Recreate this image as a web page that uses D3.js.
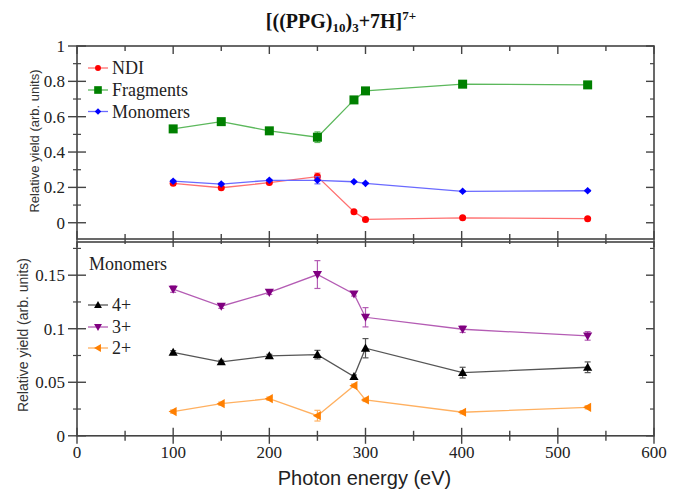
<!DOCTYPE html>
<html>
<head>
<meta charset="utf-8">
<script src="https://cdn.jsdelivr.net/npm/d3@7"></script>
<style>
  body { margin: 0; background: #fff; }
  svg { display: block; }
</style>
</head>
<body>
<div id="chart"></div>
<script>
// photon energies (eV)
const energies = [100, 150, 200, 250, 288, 300, 401, 531];

// top panel
const ndi = [0.223, 0.198, 0.227, 0.261, 0.062, 0.019, 0.028, 0.023];
const ndiErr = [0.006, 0.005, 0.006, 0.02, 0.004, 0.004, 0.004, 0.004];
const fragments = [0.531, 0.572, 0.52, 0.484, 0.695, 0.746, 0.784, 0.78];
const fragmentsErr = [0.006, 0.006, 0.006, 0.03, 0.006, 0.006, 0.006, 0.006];
const monomers = [0.235, 0.219, 0.24, 0.24, 0.232, 0.223, 0.178, 0.181];
const monomersErr = [0.005, 0.005, 0.005, 0.02, 0.004, 0.004, 0.004, 0.004];

// bottom panel (monomer charge states)
const mono4 = [0.078, 0.069, 0.0746, 0.0758, 0.0553, 0.0818, 0.059, 0.064];
const mono4Err = [0.0015, 0.0015, 0.0015, 0.004, 0.0015, 0.009, 0.005, 0.005];
const mono3 = [0.137, 0.121, 0.134, 0.1506, 0.1325, 0.1107, 0.0995, 0.0933];
const mono3Err = [0.003, 0.002, 0.002, 0.013, 0.002, 0.009, 0.003, 0.004];
const mono2 = [0.0226, 0.030, 0.0347, 0.0188, 0.0468, 0.0335, 0.022, 0.0266];
const mono2Err = [0.0015, 0.0015, 0.0015, 0.005, 0.0015, 0.0015, 0.0015, 0.0015];

const xTicks = [0, 100, 200, 300, 400, 500, 600];
const topTicks = [0, 0.2, 0.4, 0.6, 0.8, 1];
const bottomTicks = [0, 0.05, 0.1, 0.15];

const W = 680, H = 492;
const left = 77, right = 654;
const serifFont = '"Liberation Serif", "Times New Roman", serif';
const sansFont = '"Liberation Sans", Arial, sans-serif';

const svg = d3.select('#chart').append('svg')
  .attr('width', W).attr('height', H);

const x = d3.scaleLinear().domain([0, 600]).range([left, right]);
const yTop = d3.scaleLinear().domain([-0.092, 1]).range([239, 46]);
const yBot = d3.scaleLinear().domain([0, 0.181]).range([435.8, 242]);

const frameColor = '#444';

function tickText(sel) {
  return sel.style('font-family', serifFont).style('font-size', '17px').attr('fill', '#222');
}

function drawPanel(y, yt, minorStep, fmt, topTicksDown) {
  const g = svg.append('g');
  const [y0, y1] = y.range();
  g.append('rect')
    .attr('x', left).attr('y', y1)
    .attr('width', right - left).attr('height', y0 - y1)
    .attr('fill', 'none').attr('stroke', frameColor).attr('stroke-width', 1.6);

  // y ticks
  const dom = y.domain();
  const minors = d3.range(Math.ceil(dom[0] / minorStep) * minorStep, dom[1] + 1e-9, minorStep)
    .filter(v => !yt.some(t => Math.abs(t - v) < 1e-9));
  yt.forEach(t => {
    g.append('line').attr('x1', left - 9).attr('x2', left + 9)
      .attr('y1', y(t)).attr('y2', y(t)).attr('stroke', frameColor).attr('stroke-width', 1.4);
    g.append('line').attr('x1', right - 8).attr('x2', right)
      .attr('y1', y(t)).attr('y2', y(t)).attr('stroke', frameColor).attr('stroke-width', 1.4);
    tickText(g.append('text'))
      .attr('x', left - 12).attr('y', y(t)).attr('dy', '0.35em')
      .attr('text-anchor', 'end').text(fmt(t));
  });
  minors.forEach(t => {
    g.append('line').attr('x1', left - 4).attr('x2', left + 4)
      .attr('y1', y(t)).attr('y2', y(t)).attr('stroke', frameColor).attr('stroke-width', 1.2);
    g.append('line').attr('x1', right - 4).attr('x2', right)
      .attr('y1', y(t)).attr('y2', y(t)).attr('stroke', frameColor).attr('stroke-width', 1.2);
  });

  // x ticks
  d3.range(0, 601, 50).forEach(v => {
    const major = v % 100 === 0;
    const len = major ? 8 : 5;
    if (topTicksDown) {
      g.append('line').attr('x1', x(v)).attr('x2', x(v))
        .attr('y1', y1).attr('y2', y1 + len).attr('stroke', frameColor).attr('stroke-width', 1.4);
    }
    g.append('line').attr('x1', x(v)).attr('x2', x(v))
      .attr('y1', y0 - len).attr('y2', y0 + len)
      .attr('stroke', frameColor).attr('stroke-width', 1.4);
  });
  return g;
}

const fmtTop = d => d === 0 ? '0' : d === 1 ? '1' : d3.format('.1f')(d);
const fmtBot = d => d === 0 ? '0' : d === 0.1 ? '0.1' : String(d);

drawPanel(yTop, topTicks, 0.1, fmtTop, true);
drawPanel(yBot, bottomTicks, 0.025, fmtBot, false);

xTicks.forEach(v => {
  tickText(svg.append('text'))
    .attr('x', x(v)).attr('y', 452).attr('dy', '0.35em')
    .attr('text-anchor', 'middle').text(v);
});

// markers
function marker(sel, shape, color, size) {
  if (shape === 'circle') {
    sel.append('circle').attr('r', size).attr('fill', color);
  } else if (shape === 'square') {
    sel.append('rect').attr('x', -size).attr('y', -size)
      .attr('width', 2 * size).attr('height', 2 * size).attr('fill', color);
  } else if (shape === 'diamond') {
    sel.append('path').attr('d', `M0,${-size}L${size},0L0,${size}L${-size},0Z`).attr('fill', color);
  } else if (shape === 'up') {
    sel.append('path').attr('d', `M0,${-size}L${size},${size * 0.75}L${-size},${size * 0.75}Z`).attr('fill', color);
  } else if (shape === 'down') {
    sel.append('path').attr('d', `M0,${size}L${size},${-size * 0.75}L${-size},${-size * 0.75}Z`).attr('fill', color);
  } else if (shape === 'left') {
    sel.append('path').attr('d', `M${-size},0L${size * 0.75},${-size}L${size * 0.75},${size}Z`).attr('fill', color);
  }
}

function drawSeries(y, vals, errs, s) {
  const pts = energies.map((e, i) => ({ e: e, v: vals[i], err: errs[i] }));
  const g = svg.append('g');
  g.append('path').datum(pts)
    .attr('d', d3.line().x(d => x(d.e)).y(d => y(d.v)))
    .attr('fill', 'none').attr('stroke', s.line).attr('stroke-width', 1.3);
  pts.forEach(d => {
    const cx = x(d.e);
    g.append('line').attr('x1', cx).attr('x2', cx)
      .attr('y1', y(d.v - d.err)).attr('y2', y(d.v + d.err))
      .attr('stroke', s.line).attr('stroke-width', 1.2);
    [d.v - d.err, d.v + d.err].forEach(v => {
      g.append('line').attr('x1', cx - 3).attr('x2', cx + 3)
        .attr('y1', y(v)).attr('y2', y(v))
        .attr('stroke', s.line).attr('stroke-width', 1.2);
    });
    marker(g.append('g').attr('transform', `translate(${cx},${y(d.v)})`), s.shape, s.color, s.size);
  });
}

const series = {
  ndi: { color: '#ff0000', line: '#ff7070', shape: 'circle', size: 3.5 },
  frag: { color: '#008000', line: '#5cb85c', shape: 'square', size: 4.5 },
  mono: { color: '#0000ff', line: '#6a6aff', shape: 'diamond', size: 3.8 },
  m4: { color: '#000000', line: '#555555', shape: 'up', size: 4.6 },
  m3: { color: '#800080', line: '#b45cb4', shape: 'down', size: 4.6 },
  m2: { color: '#ff7f00', line: '#ffb060', shape: 'left', size: 4.6 }
};

drawSeries(yTop, fragments, fragmentsErr, series.frag);
drawSeries(yTop, ndi, ndiErr, series.ndi);
drawSeries(yTop, monomers, monomersErr, series.mono);

drawSeries(yBot, mono3, mono3Err, series.m3);
drawSeries(yBot, mono4, mono4Err, series.m4);
drawSeries(yBot, mono2, mono2Err, series.m2);

// legends
function legText(sel) {
  return sel.style('font-family', serifFont).style('font-size', '18px').attr('fill', '#222');
}
function legendEntry(yPos, s, label) {
  svg.append('line').attr('x1', 88).attr('x2', 108).attr('y1', yPos).attr('y2', yPos)
    .attr('stroke', s.line).attr('stroke-width', 1.3);
  marker(svg.append('g').attr('transform', `translate(98,${yPos})`), s.shape, s.color, s.size * 0.85);
  legText(svg.append('text')).attr('x', 112).attr('y', yPos).attr('dy', '0.35em').text(label);
}
legendEntry(68, series.ndi, 'NDI');
legendEntry(90, series.frag, 'Fragments');
legendEntry(111.5, series.mono, 'Monomers');

legText(svg.append('text')).attr('x', 89).attr('y', 264).attr('dy', '0.35em').text('Monomers');
legendEntry(305, series.m4, '4+');
legendEntry(327, series.m3, '3+');
legendEntry(348, series.m2, '2+');

// title
const title = svg.append('text')
  .attr('x', 341).attr('y', 28).attr('text-anchor', 'middle')
  .style('font-family', serifFont)
  .style('font-weight', 'bold').style('font-size', '20px').attr('fill', '#111');
title.append('tspan').text('[((PPG)');
title.append('tspan').attr('dy', 4).style('font-size', '13px').text('10');
title.append('tspan').attr('dy', -4).text(')');
title.append('tspan').attr('dy', 4).style('font-size', '13px').text('3');
title.append('tspan').attr('dy', -4).text('+7H]');
title.append('tspan').attr('dy', -8).style('font-size', '13px').text('7+');

// axis labels
svg.append('text')
  .attr('transform', 'translate(39,141) rotate(-90)')
  .attr('text-anchor', 'middle')
  .style('font-family', sansFont).style('font-size', '13px').attr('fill', '#333')
  .text('Relative yield (arb. units)');
svg.append('text')
  .attr('transform', 'translate(28,335) rotate(-90)')
  .attr('text-anchor', 'middle')
  .style('font-family', sansFont).style('font-size', '14px').attr('fill', '#333')
  .text('Relative yield (arb. units)');
svg.append('text')
  .attr('x', x(300) - 1).attr('y', 485).attr('text-anchor', 'middle')
  .style('font-family', sansFont).style('font-size', '20px').attr('fill', '#222')
  .text('Photon energy (eV)');
</script>
</body>
</html>
